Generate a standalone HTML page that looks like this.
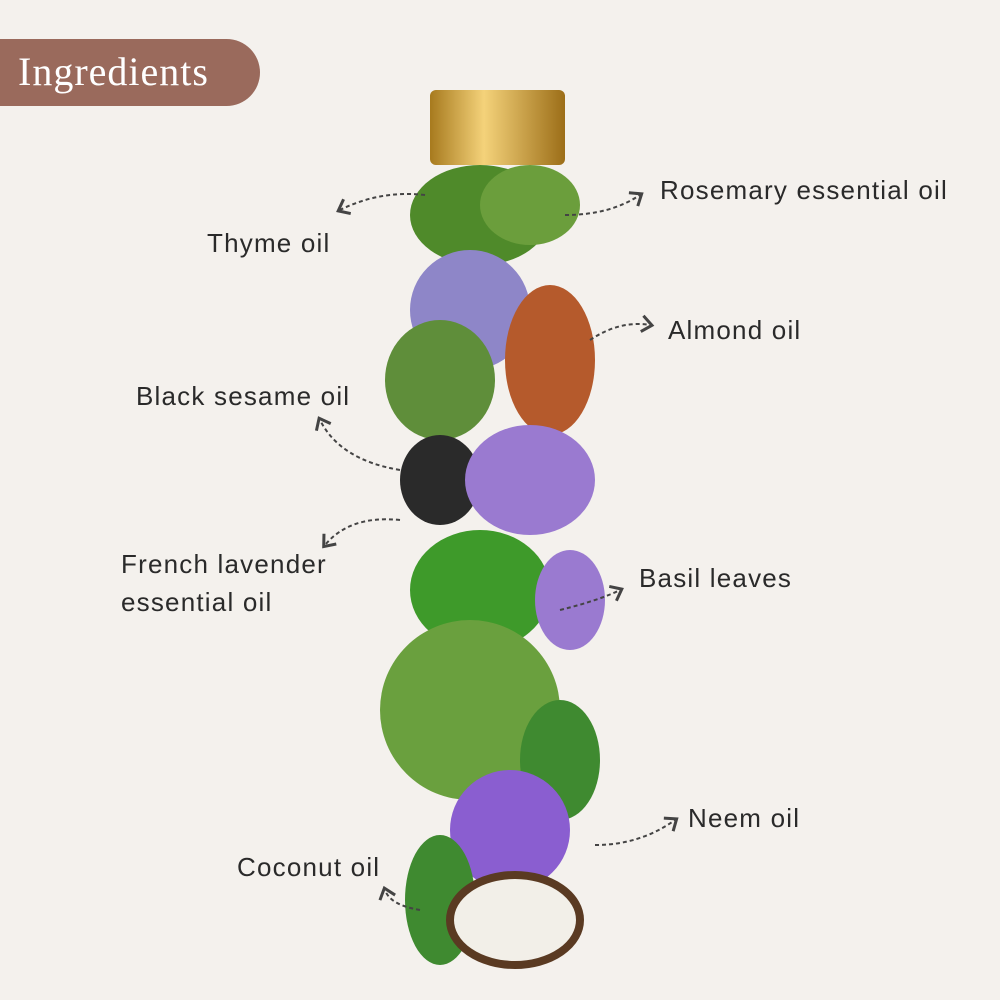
<!DOCTYPE html>
<html><head><style>
body{margin:0;width:1000px;height:1000px;background:#f4f1ed;overflow:hidden;position:relative;font-family:"Liberation Sans",sans-serif}
.b{position:absolute;left:0;top:39px;width:260px;height:67px;background:#9a6a5c;border-radius:0 34px 34px 0}
.b span{position:absolute;left:18px;top:9px;font:40px "Liberation Serif",serif;color:#fff;letter-spacing:1px}
.l{position:absolute;font-size:26px;color:#2a2a2a;letter-spacing:1.2px;line-height:38px}
</style></head><body>
<div class="b"><span>Ingredients</span></div>
<svg width="1000" height="1000" style="position:absolute;left:0;top:0">
<defs><linearGradient id="g" x1="0" x2="1"><stop offset="0" stop-color="#a77a1e"/><stop offset=".4" stop-color="#f4d27a"/><stop offset="1" stop-color="#9c6e18"/></linearGradient>
<marker id="a" markerWidth="10" markerHeight="10" refX="5" refY="5" orient="auto"><path d="M1 1 L6 5 L1 9" fill="none" stroke="#444" stroke-width="1.5"/></marker></defs>
<rect x="430" y="90" width="135" height="75" rx="6" fill="url(#g)"/>
<ellipse cx="480" cy="215" rx="70" ry="50" fill="#4f8a2a"/>
<ellipse cx="530" cy="205" rx="50" ry="40" fill="#6b9e3c"/>
<ellipse cx="470" cy="310" rx="60" ry="60" fill="#8e86c8"/>
<ellipse cx="550" cy="360" rx="45" ry="75" fill="#b55a2c"/>
<ellipse cx="440" cy="380" rx="55" ry="60" fill="#5f8e3a"/>
<ellipse cx="440" cy="480" rx="40" ry="45" fill="#2a2a2a"/>
<ellipse cx="530" cy="480" rx="65" ry="55" fill="#9a7ad0"/>
<ellipse cx="480" cy="590" rx="70" ry="60" fill="#3e9a2a"/>
<ellipse cx="570" cy="600" rx="35" ry="50" fill="#9a7ad0"/>
<ellipse cx="470" cy="710" rx="90" ry="90" fill="#6aa03e"/>
<ellipse cx="560" cy="760" rx="40" ry="60" fill="#3f8a30"/>
<ellipse cx="510" cy="830" rx="60" ry="60" fill="#8a5ed0"/>
<ellipse cx="440" cy="900" rx="35" ry="65" fill="#3f8a30"/>
<ellipse cx="515" cy="920" rx="65" ry="45" fill="#f2efe8" stroke="#5a3a22" stroke-width="8"/>
<g fill="none" stroke="#444" stroke-width="2" stroke-dasharray="4 3" marker-end="url(#a)">
<path d="M425 195 Q380 190 340 210"/><path d="M565 215 Q610 215 640 195"/>
<path d="M590 340 Q620 320 650 325"/><path d="M400 470 Q340 460 320 420"/>
<path d="M400 520 Q350 515 325 545"/><path d="M560 610 Q600 600 620 590"/>
<path d="M595 845 Q640 845 675 820"/><path d="M420 910 Q390 905 385 890"/>
</g>
</svg>
<div class="l" style="left:207px;top:224px">Thyme oil</div>
<div class="l" style="left:660px;top:171px">Rosemary essential oil</div>
<div class="l" style="left:668px;top:311px">Almond oil</div>
<div class="l" style="left:136px;top:377px">Black sesame oil</div>
<div class="l" style="left:121px;top:545px">French lavender<br>essential oil</div>
<div class="l" style="left:639px;top:559px">Basil leaves</div>
<div class="l" style="left:688px;top:799px">Neem oil</div>
<div class="l" style="left:237px;top:848px">Coconut oil</div>
</body></html>
